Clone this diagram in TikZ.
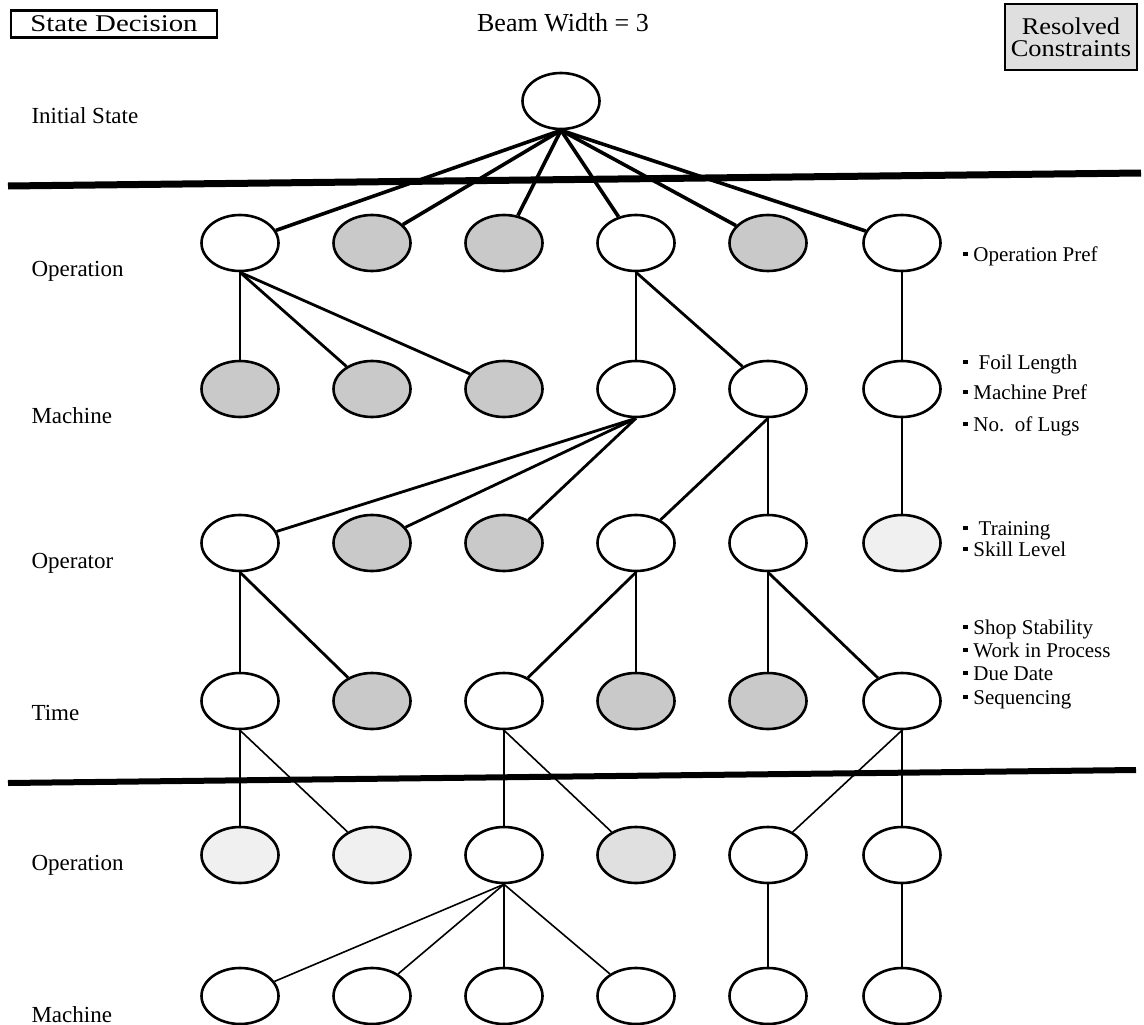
\documentclass[tikz,border=0pt]{standalone}
\usepackage{fontspec}
\setmainfont{Liberation Serif}
\usetikzlibrary{shapes.geometric}
\newcommand\rbul{\raisebox{0.5ex}{\rule{5pt}{4.5pt}}}
\begin{document}
\begin{tikzpicture}[x=1pt,y=-1pt,
  sd/.style={draw, line width=2.6pt, ellipse, minimum width=77pt, minimum height=56pt, inner sep=0pt, fill=white},
  rc/.style={sd, fill=gray!42},
  rclight/.style={sd, fill=gray!12},
  rcmid/.style={sd, fill=gray!24},
  heavy/.style={line width=3.6pt},
  mid/.style={line width=2.8pt},
  thin/.style={line width=1.6pt},
  bar/.style={line width=7pt},
  lvl/.style={anchor=base west, font=\fontsize{23}{26}\selectfont},
  rlab/.style={anchor=base west, font=\fontsize{21}{22}\selectfont, inner sep=0pt},
  legend/.style={draw, line width=2.8pt, inner sep=2pt, font=\fontsize{24}{26}\selectfont}]
\useasboundingbox (0,0) rectangle (1144,1025);

% header
\node[legend, fill=white, minimum width=206pt, minimum height=27pt, inner sep=0pt] (sdbox) at (114,24) {\scalebox{1.2}[1]{State Decision}};
\node[anchor=base, font=\fontsize{26}{28}\selectfont] (beam) at (563,32) {Beam Width = 3};
\node[legend, fill=gray!25, minimum width=132pt, minimum height=66pt, align=center, inner sep=1pt,
      font=\fontsize{24}{22}\selectfont] (rcbox) at (1071,37) {\scalebox{1.1}[1]{Resolved}\\\scalebox{1.1}[1]{Constraints}};

% level labels
\node[lvl] (l0) at (28,123) {Initial State};
\node[lvl] (l1) at (28,276) {Operation};
\node[lvl] (l2) at (28,423) {Machine};
\node[lvl] (l3) at (28,568) {Operator};
\node[lvl] (l4) at (28,720) {Time};
\node[lvl] (l5) at (28,870) {Operation};
\node[lvl] (l6) at (28,1022) {Machine};

% tree nodes
\node[sd] (i) at (561,101) {};

\node[sd] (o1) at (240,243) {};
\node[rc] (o2) at (372,243) {};
\node[rc] (o3) at (504,243) {};
\node[sd] (o4) at (636,243) {};
\node[rc] (o5) at (768,243) {};
\node[sd] (o6) at (902,243) {};

\node[rc] (m1) at (240,389) {};
\node[rc] (m2) at (372,389) {};
\node[rc] (m3) at (504,389) {};
\node[sd] (m4) at (636,389) {};
\node[sd] (m5) at (768,389) {};
\node[sd] (m6) at (902,389) {};

\node[sd] (p1) at (240,543) {};
\node[rc] (p2) at (372,543) {};
\node[rc] (p3) at (504,543) {};
\node[sd] (p4) at (636,543) {};
\node[sd] (p5) at (768,543) {};
\node[rclight] (p6) at (902,543) {};

\node[sd] (t1) at (240,701) {};
\node[rc] (t2) at (372,701) {};
\node[sd] (t3) at (504,701) {};
\node[rc] (t4) at (636,701) {};
\node[rc] (t5) at (768,701) {};
\node[sd] (t6) at (902,701) {};

\node[rclight] (q1) at (240,855) {};
\node[rclight] (q2) at (372,855) {};
\node[sd] (q3) at (504,855) {};
\node[rcmid] (q4) at (636,855) {};
\node[sd] (q5) at (768,855) {};
\node[sd] (q6) at (902,855) {};

\node[sd] (n1) at (240,996) {};
\node[sd] (n2) at (372,996) {};
\node[sd] (n3) at (504,996) {};
\node[sd] (n4) at (636,996) {};
\node[sd] (n5) at (768,996) {};
\node[sd] (n6) at (902,996) {};

% branches
\foreach \c in {o1,o2,o3,o4,o5,o6} \draw[heavy] (i.south) -- (\c);
\draw[mid] (o1.south) -- (m1.north);
\foreach \c in {m2,m3} \draw[mid] (o1.south) -- (\c);
\draw[mid] (o4.south) -- (m4.north);
\draw[mid] (o4.south) -- (m5);
\draw[mid] (o6.south) -- (m6.north);
\foreach \c in {p1,p2,p3} \draw[mid] (m4.south) -- (\c);
\draw[mid] (m5.south) -- (p4);
\draw[mid] (m5.south) -- (p5.north);
\draw[mid] (m6.south) -- (p6.north);
\draw[mid] (p1.south) -- (t1.north);
\draw[mid] (p1.south) -- (t2);
\draw[mid] (p4.south) -- (t3);
\draw[mid] (p4.south) -- (t4.north);
\draw[mid] (p5.south) -- (t5.north);
\draw[mid] (p5.south) -- (t6);
\draw[thin] (t1.south) -- (q1.north);
\draw[thin] (t1.south) -- (q2);
\draw[thin] (t3.south) -- (q3.north);
\draw[thin] (t3.south) -- (q4);
\draw[thin] (t6.south) -- (q5);
\draw[thin] (t6.south) -- (q6.north);
\foreach \c in {n1,n2,n4} \draw[thin] (q3.south) -- (\c);
\draw[thin] (q3.south) -- (n3.north);
\draw[thin] (q5.south) -- (n5.north);
\draw[thin] (q6.south) -- (n6.north);

% horizon bars
\coordinate (b1l) at (8,186);
\coordinate (b1r) at (1141,173);
\coordinate (b2l) at (8,783);
\coordinate (b2r) at (1136,770);
\draw[bar] (b1l) -- (b1r);
\draw[bar, line width=6pt] (b2l) -- (b2r);

% resolved constraints per level
\node[rlab] (r1) at (963,261) {\rbul\ Operation Pref};
\node[rlab] (r2) at (963,369) {\rbul\ \ Foil Length};
\node[rlab] (r3) at (963,399) {\rbul\ Machine Pref};
\node[rlab] (r4) at (963,431) {\rbul\ No.\ \ of Lugs};
\node[rlab] (r5) at (963,535) {\rbul\ \ Training};
\node[rlab] (r6) at (963,556) {\rbul\ Skill Level};
\node[rlab] (r7) at (963,634) {\rbul\ Shop Stability};
\node[rlab] (r8) at (963,657) {\rbul\ Work in Process};
\node[rlab] (r9) at (963,680) {\rbul\ Due Date};
\node[rlab] (r10) at (963,704) {\rbul\ Sequencing};
\end{tikzpicture}
\end{document}
